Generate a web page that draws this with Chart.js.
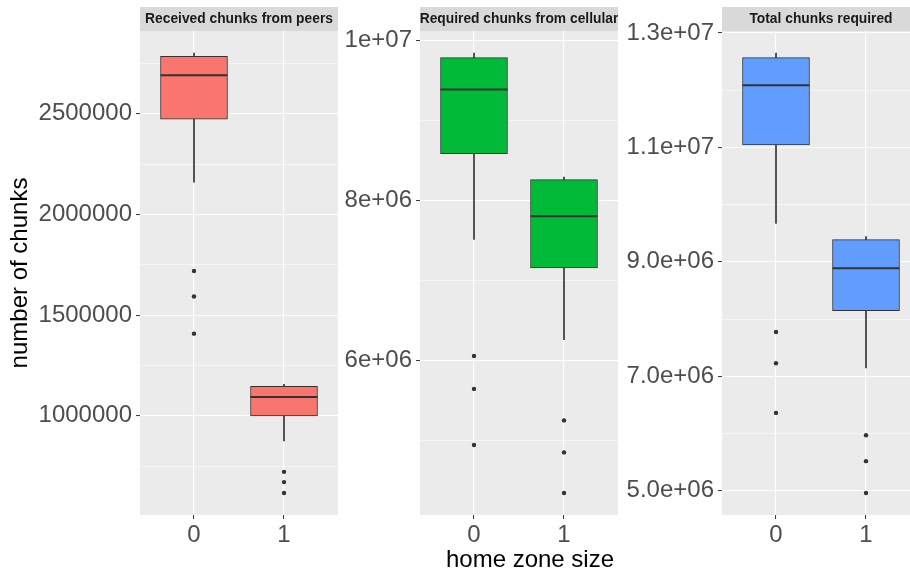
<!DOCTYPE html>
<html>
<head>
<meta charset="utf-8">
<title>number of chunks by home zone size</title>
<script src="https://cdn.jsdelivr.net/npm/chart.js@4"></script>
<style>
  html, body { margin: 0; padding: 0; background: #ffffff; width: 910px; height: 575px; overflow: hidden; }
  .panel { position: absolute; top: 0; }
  #xtitle {
    position: absolute; left: 140px; width: 780px; top: 545px;
    text-align: center; font: 24px "Liberation Sans", Arial, sans-serif;
    line-height: 28px; color: #000000;
  }
</style>
</head>
<body>
<canvas class="panel" id="peers" width="338" height="575" style="left:0px"></canvas>
<canvas class="panel" id="cellular" width="280" height="575" style="left:338px"></canvas>
<canvas class="panel" id="total" width="302" height="575" style="left:618px"></canvas>
<div id="xtitle">home zone size</div>

<script>
// Home zone size groups on the x axis
const groups = [0, 1];
const groupLabels = ['0', '1'];

const panelTitles = ['Received chunks from peers', 'Required chunks from cellular', 'Total chunks required'];
const yAxisTitle = 'number of chunks';

// Box summaries per group: [lower whisker, Q1, median, Q3, upper whisker]
const peersStats = [
  [2160000, 2472000, 2691000, 2784000, 2801000],
  [876000, 1000000, 1094000, 1147000, 1156000]
];
const peersOutliers = [
  [1719000, 1592000, 1408000],
  [722000, 671000, 617000]
];

const cellularStats = [
  [7513000, 8586000, 9388000, 9788000, 9846000],
  [6262000, 7159000, 7804000, 8262000, 8295000]
];
const cellularOutliers = [
  [6057000, 5645000, 4943000],
  [5251000, 4851000, 4343000]
];

const totalStats = [
  [9674000, 11045000, 12086000, 12569000, 12651000],
  [7145000, 8145000, 8890000, 9389000, 9442000]
];
const totalOutliers = [
  [7773000, 7227000, 6360000],
  [5970000, 5517000, 4960000]
];

// Y axis breaks and labels for each panel
const peersTicks = [1000000, 1500000, 2000000, 2500000];
const peersTickLabels = ['1000000', '1500000', '2000000', '2500000'];
const peersMinorTicks = [750000, 1250000, 1750000, 2250000, 2750000];

const cellularTicks = [6000000, 8000000, 10000000];
const cellularTickLabels = ['6e+06', '8e+06', '1e+07'];
const cellularMinorTicks = [5000000, 7000000, 9000000];

const totalTicks = [5000000, 7000000, 9000000, 11000000, 13000000];
const totalTickLabels = ['5.0e+06', '7.0e+06', '9.0e+06', '1.1e+07', '1.3e+07'];
const totalMinorTicks = [6000000, 8000000, 10000000, 12000000];

const fills = ['#F8766D', '#00BA38', '#619CFF'];

Chart.defaults.font.family = '"Liberation Sans", Arial, sans-serif';
Chart.defaults.animation = false;

// Panel background and grey facet strip with its title
const facetPlugin = {
  id: 'facet',
  beforeDraw(chart, args, opts) {
    const a = chart.chartArea;
    const ctx = chart.ctx;
    ctx.save();
    ctx.fillStyle = '#EBEBEB';
    ctx.fillRect(a.left, a.top, a.right - a.left, a.bottom - a.top);
    ctx.fillStyle = '#D9D9D9';
    ctx.fillRect(a.left, 7, a.right - a.left, a.top - 7);
    ctx.fillStyle = '#1A1A1A';
    ctx.font = 'bold 13.8px "Liberation Sans", Arial, sans-serif';
    ctx.textAlign = 'center';
    ctx.textBaseline = 'middle';
    ctx.fillText(opts.text, (a.left + a.right) / 2, 19.5);
    ctx.restore();
  }
};

function dataRange(stats, outliers) {
  const all = stats.flat().concat(outliers.flat());
  const lo = Math.min(...all), hi = Math.max(...all);
  const pad = (hi - lo) * 0.05;
  return [lo - pad, hi + pad];
}

function makePanel(id, title, stats, outliers, fill, ticks, tickLabels, minorTicks, yWidth, withTitle) {
  const [ymin, ymax] = dataRange(stats, outliers);
  const yTickObjs = ticks.map(v => ({ value: v, minor: false }))
    .concat(minorTicks.map(v => ({ value: v, minor: true })))
    .sort((p, q) => p.value - q.value);

  return new Chart(document.getElementById(id), {
    type: 'bar',
    data: {
      datasets: [
        {
          label: 'whiskers',
          type: 'bar',
          data: groups.map((g, i) => ({ x: g, y: [stats[i][0], stats[i][4]] })),
          backgroundColor: '#333333',
          borderWidth: 0,
          barThickness: 1,
          grouped: false,
          order: 4
        },
        {
          label: 'boxes',
          type: 'bar',
          data: groups.map((g, i) => ({ x: g, y: [stats[i][1], stats[i][3]] })),
          backgroundColor: fill,
          borderColor: '#333333',
          borderWidth: 1,
          borderSkipped: false,
          barThickness: 67,
          grouped: false,
          order: 3
        },
        {
          label: 'medians',
          type: 'line',
          showLine: false,
          data: groups.map((g, i) => ({ x: g, y: stats[i][2] })),
          pointStyle: 'line',
          pointRadius: 33.5,
          pointBorderWidth: 2,
          pointBorderColor: '#333333',
          borderColor: '#333333',
          order: 2
        },
        {
          label: 'outliers',
          type: 'line',
          showLine: false,
          data: groups.flatMap((g, i) => outliers[i].map(v => ({ x: g, y: v }))),
          pointStyle: 'circle',
          pointRadius: 2.2,
          pointBorderWidth: 0,
          pointBackgroundColor: '#333333',
          order: 1
        }
      ]
    },
    options: {
      responsive: false,
      animation: false,
      layout: { autoPadding: false, padding: { top: 31, right: 0, bottom: 0, left: 0 } },
      plugins: {
        legend: { display: false },
        tooltip: { enabled: false },
        facet: { text: title }
      },
      scales: {
        x: {
          type: 'linear',
          offset: false,
          min: -0.6,
          max: 1.6,
          afterBuildTicks: s => { s.ticks = groups.map(v => ({ value: v })); },
          afterFit: s => { s.height = 60; s.paddingLeft = 0; s.paddingRight = 0; },
          ticks: {
            callback: (v, i) => groupLabels[i],
            autoSkip: false,
            maxRotation: 0,
            color: '#4D4D4D',
            font: { size: 24 },
            padding: 2
          },
          grid: { offset: false, color: '#FFFFFF', lineWidth: 1.1, tickColor: '#333333', tickLength: 4, tickWidth: 1 },
          border: { display: false }
        },
        y: {
          type: 'linear',
          min: ymin,
          max: ymax,
          afterBuildTicks: s => { s.ticks = yTickObjs.map(t => ({ value: t.value, minor: t.minor })); },
          afterFit: s => { s.width = yWidth; },
          ticks: {
            callback: v => {
              const k = ticks.indexOf(v);
              return k >= 0 ? tickLabels[k] : '';
            },
            autoSkip: false,
            color: '#4D4D4D',
            font: { size: 24 },
            padding: 4
          },
          grid: {
            color: '#FFFFFF',
            lineWidth: c => (c.tick && c.tick.minor) ? 0.55 : 1.1,
            tickColor: c => (c.tick && c.tick.minor) ? 'rgba(0,0,0,0)' : '#333333',
            tickLength: 4,
            tickWidth: 1
          },
          border: { display: false },
          title: {
            display: withTitle,
            text: yAxisTitle,
            color: '#000000',
            font: { size: 24 },
            padding: { top: 6, bottom: 0 }
          }
        }
      }
    },
    plugins: [facetPlugin]
  });
}

makePanel('peers', panelTitles[0], peersStats, peersOutliers, fills[0],
  peersTicks, peersTickLabels, peersMinorTicks, 140, true);
makePanel('cellular', panelTitles[1], cellularStats, cellularOutliers, fills[1],
  cellularTicks, cellularTickLabels, cellularMinorTicks, 82, false);
makePanel('total', panelTitles[2], totalStats, totalOutliers, fills[2],
  totalTicks, totalTickLabels, totalMinorTicks, 104, false);
</script>
</body>
</html>
